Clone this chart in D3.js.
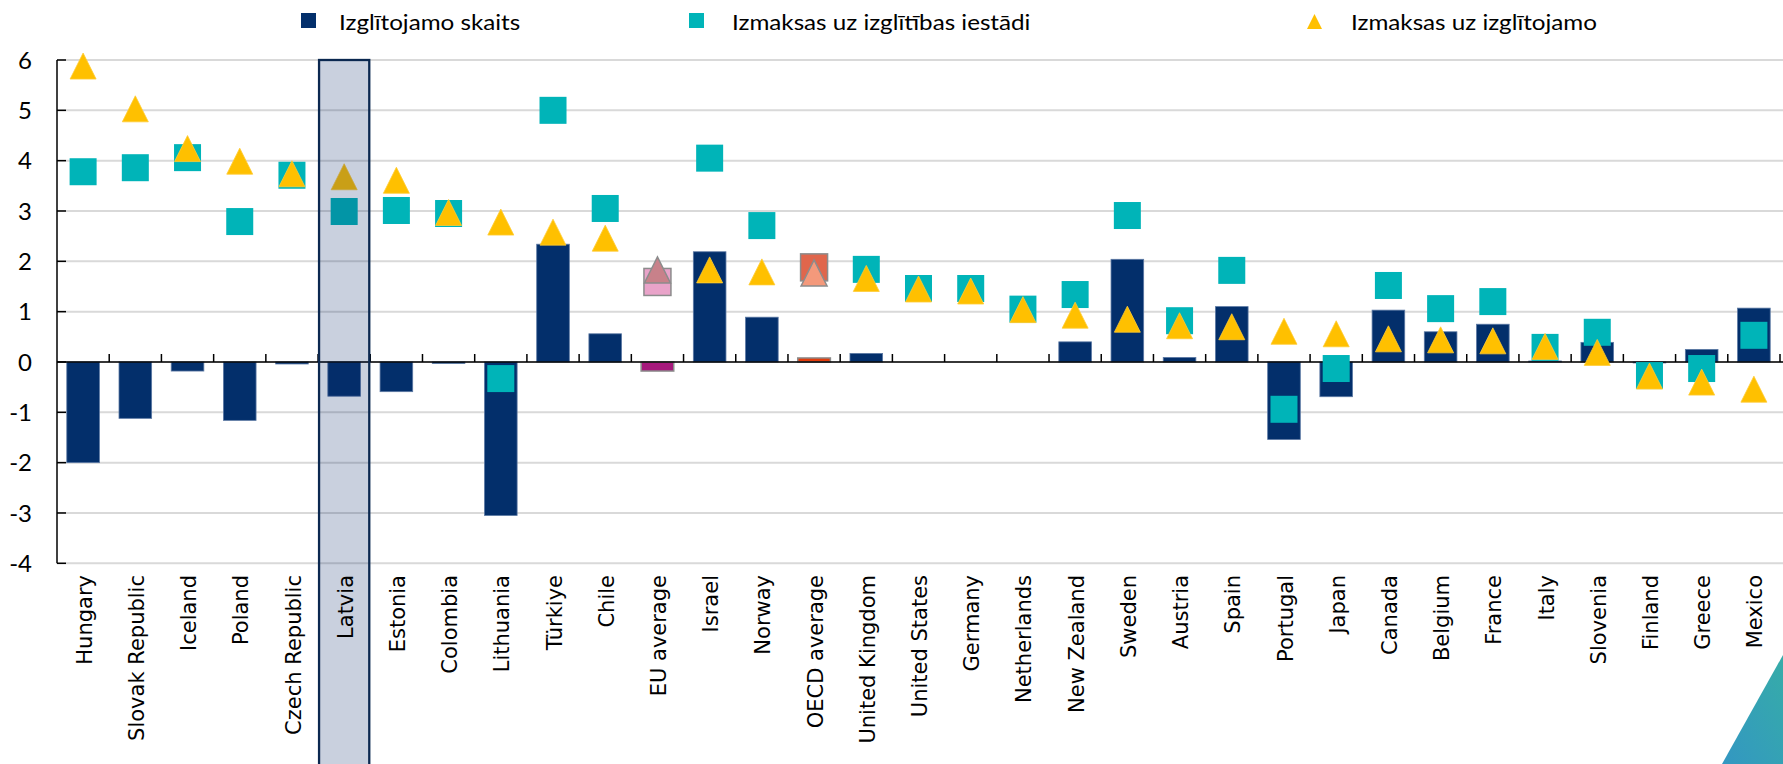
<!DOCTYPE html>
<html lang="lv">
<head>
<meta charset="utf-8">
<title>Izglītojamo skaits un izmaksas</title>
<style>
  body { margin: 0; background: #fff; }
  svg { display: block; }
  .legend text, .y-tick { font-family: Lato, "Open Sans", sans-serif; fill: #000; }
  .x-label { font-family: "DejaVu Sans", Verdana, sans-serif; font-size: 21px; fill: #000; }
</style>
</head>
<body>
<svg id="chart" width="1783" height="764"></svg>
<script src="https://cdn.jsdelivr.net/npm/d3@7"></script>
<script>

const categories = ["Hungary", "Slovak Republic", "Iceland", "Poland", "Czech Republic", "Latvia",
  "Estonia", "Colombia", "Lithuania", "Türkiye", "Chile", "EU average", "Israel", "Norway",
  "OECD average", "United Kingdom", "United States", "Germany", "Netherlands", "New Zealand",
  "Sweden", "Austria", "Spain", "Portugal", "Japan", "Canada", "Belgium", "France", "Italy",
  "Slovenia", "Finland", "Greece", "Mexico"];

// Izglītojamo skaits (bars)
const students = [-2.0, -1.12, -0.18, -1.16, -0.04, -0.68, -0.59, -0.03, -3.05, 2.34, 0.56,
  -0.18, 2.19, 0.89, 0.08, 0.17, 0, 0, 0, 0.40, 2.04, 0.09, 1.10, -1.54, -0.69, 1.03, 0.60,
  0.75, 0.02, 0.39, -0.02, 0.25, 1.07];

// Izmaksas uz izglītības iestādi (squares)
const perInstitution = [3.78, 3.86, 4.06, 2.79, 3.71, 2.99, 3.01, 2.95, -0.33, 5.0, 3.05,
  1.59, 4.05, 2.71, 1.88, 1.84, 1.46, 1.46, 1.05, 1.34, 2.91, 0.82, 1.82, -0.94, -0.13, 1.52,
  1.06, 1.20, 0.29, 0.59, -0.27, -0.13, 0.53];

// Izmaksas uz izglītojamo (triangles)
const perStudent = [5.88, 5.03, 4.24, 3.99, 3.74, 3.68, 3.61, 2.97, 2.78, 2.58, 2.46,
  1.83, 1.83, 1.79, 1.77, 1.66, 1.45, 1.41, 1.04, 0.93, 0.85, 0.72, 0.70, 0.61, 0.56, 0.46,
  0.44, 0.42, 0.31, 0.19, -0.28, -0.40, -0.54];

const yTicks = [-4, -3, -2, -1, 0, 1, 2, 3, 4, 5, 6];

const legendLabels = ["Izglītojamo skaits", "Izmaksas uz izglītības iestādi", "Izmaksas uz izglītojamo"];

const highlight = "Latvia";

// colours
const navy = "#032f6b", teal = "#00b4b8", gold = "#ffc000";
const special = {
  "EU average":   {bar: "#a6197c", sq: "#e9a3c9", tri: "#c8818a"},
  "OECD average": {bar: "#e23c0c", sq: "#e0664c", tri: "#f4997b"}
};

const svg = d3.select("#chart");

const x = d3.scaleBand()
    .domain(categories)
    .range([57, 1780])
    .padding(0);

const y = d3.scaleLinear()
    .domain([-4, 6])
    .range([563.3, 60]);

const bw = x.bandwidth();
const cx = d => x(d) + bw / 2;

// gridlines
svg.append("g")
  .selectAll("line")
  .data(yTicks)
  .join("line")
    .attr("x1", 57).attr("x2", 1783)
    .attr("y1", d => y(d)).attr("y2", d => y(d))
    .attr("stroke", "#d9d9d9")
    .attr("stroke-width", 2);

// bars
const barW = bw * 0.625;
svg.append("g")
  .selectAll("rect")
  .data(categories)
  .join("rect")
    .attr("x", d => cx(d) - barW / 2)
    .attr("width", barW)
    .attr("y", (d, i) => y(Math.max(0, students[i])))
    .attr("height", (d, i) => Math.abs(y(students[i]) - y(0)))
    .attr("fill", d => special[d] ? special[d].bar : navy)
    .attr("stroke", d => special[d] ? "#8c8c8c" : "#5b78a3")
    .attr("stroke-width", d => special[d] ? 1.5 : 0.8);

// zero line + category ticks
svg.append("line")
    .attr("x1", 57).attr("x2", 1783)
    .attr("y1", y(0)).attr("y2", y(0))
    .attr("stroke", "#000").attr("stroke-width", 1.5);

svg.append("g")
  .selectAll("line")
  .data(categories.slice(1).concat(["_end"]))
  .join("line")
    .attr("x1", (d, i) => 57 + (i + 1) * bw)
    .attr("x2", (d, i) => 57 + (i + 1) * bw)
    .attr("y1", y(0) - 8).attr("y2", y(0))
    .attr("stroke", "#000").attr("stroke-width", 1.5);

// squares
const sq = 27;
svg.append("g")
  .selectAll("rect")
  .data(categories)
  .join("rect")
    .attr("x", d => cx(d) - sq / 2)
    .attr("y", (d, i) => y(perInstitution[i]) - sq / 2)
    .attr("width", sq).attr("height", sq)
    .attr("fill", d => special[d] ? special[d].sq : teal)
    .attr("stroke", d => special[d] ? "#8c8c8c" : "none")
    .attr("stroke-width", 1.5);

// triangles
const tw = 26, th = 26;
const tri = `M0,${-th / 2}L${tw / 2},${th / 2}L${-tw / 2},${th / 2}Z`;
svg.append("g")
  .selectAll("path")
  .data(categories)
  .join("path")
    .attr("d", tri)
    .attr("transform", (d, i) => `translate(${cx(d)},${y(perStudent[i])})`)
    .attr("fill", d => special[d] ? special[d].tri : gold)
    .attr("stroke", d => special[d] ? "#8c8c8c" : "#ffcc33")
    .attr("stroke-width", d => special[d] ? 1.5 : 0.8);

// highlight column for Latvia
svg.append("rect")
    .attr("x", x(highlight) + 1)
    .attr("y", y(6))
    .attr("width", bw - 2)
    .attr("height", 764 - y(6) + 4)
    .attr("fill", "#0a2a6a")
    .attr("fill-opacity", 0.22)
    .attr("stroke", "#0b2850")
    .attr("stroke-width", 2.3);

// y axis
svg.append("line")
    .attr("x1", 57).attr("x2", 57)
    .attr("y1", y(6)).attr("y2", y(-4))
    .attr("stroke", "#000").attr("stroke-width", 1.5);

svg.append("g")
  .selectAll("line")
  .data(yTicks)
  .join("line")
    .attr("x1", 57).attr("x2", 66)
    .attr("y1", d => y(d)).attr("y2", d => y(d))
    .attr("stroke", "#000").attr("stroke-width", 1.5);

svg.append("g")
  .selectAll("text")
  .data(yTicks)
  .join("text")
    .attr("class", "y-tick")
    .attr("x", 32)
    .attr("y", d => y(d))
    .attr("dy", "0.36em")
    .attr("text-anchor", "end")
    .style("font-size", "24px")
    .text(d => d < 0 ? "-" + Math.abs(d) : d);

// x labels
svg.append("g")
  .selectAll("text")
  .data(categories)
  .join("text")
    .attr("class", "x-label")
    .attr("transform", d => `translate(${cx(d) + 1},575) rotate(-90)`)
    .attr("dy", "0.36em")
    .attr("text-anchor", "end")
    .text(d => d);

// legend
const legend = svg.append("g").attr("class", "legend");
const legX = [301, 689, 1307], legTextX = [339, 732, 1351];
legend.append("rect").attr("x", legX[0]).attr("y", 13).attr("width", 15).attr("height", 15).attr("fill", navy);
legend.append("rect").attr("x", legX[1]).attr("y", 13).attr("width", 15).attr("height", 15).attr("fill", teal);
legend.append("path")
    .attr("d", "M0,-7.5L7.5,7.5L-7.5,7.5Z")
    .attr("transform", `translate(${legX[2] + 7.5},21.5)`)
    .attr("fill", gold);
legend.selectAll("text")
  .data(legendLabels)
  .join("text")
    .attr("transform", (d, i) => `translate(${legTextX[i]},30) scale(1.1,1)`)
    .style("font-size", "22px")
    .text(d => d);

// corner decoration
const defs = svg.append("defs");
const grad = defs.append("linearGradient")
    .attr("id", "corner")
    .attr("x1", "1").attr("y1", "0").attr("x2", "0").attr("y2", "1");
grad.append("stop").attr("offset", "0").attr("stop-color", "#36aca8");
grad.append("stop").attr("offset", "1").attr("stop-color", "#3397c2");
svg.append("path")
    .attr("d", "M1783,655L1783,764L1722,764Z")
    .attr("fill", "url(#corner)");

</script>
</body>
</html>
